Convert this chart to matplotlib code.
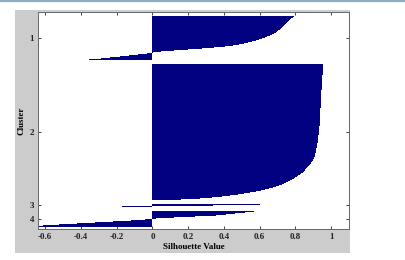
import numpy as np
import matplotlib
matplotlib.use("Agg")
import matplotlib.pyplot as plt
from matplotlib.patches import Rectangle

# silhouette values per cluster, sorted descending
cluster1 = [0.790, 0.785, 0.778, 0.772, 0.766, 0.760, 0.754, 0.748, 0.743, 0.737,
            0.731, 0.726, 0.720, 0.713, 0.705, 0.697, 0.689, 0.680, 0.668, 0.656,
            0.643, 0.630, 0.615, 0.597, 0.578, 0.558, 0.535, 0.510, 0.483, 0.452,
            0.405, 0.345, 0.275, 0.200, 0.120, 0.050, 0.005, -0.030, -0.080, -0.130,
            -0.180, -0.235, -0.290, -0.355]

cluster2 = [0.955, 0.955, 0.954, 0.954, 0.954, 0.953, 0.953, 0.953, 0.952, 0.952,
            0.952, 0.951, 0.951, 0.951, 0.950, 0.950, 0.950, 0.949, 0.949, 0.949,
            0.948, 0.948, 0.948, 0.947, 0.947, 0.947, 0.946, 0.946, 0.946, 0.945,
            0.945, 0.945, 0.944, 0.944, 0.944, 0.943, 0.943, 0.943, 0.942, 0.942,
            0.942, 0.941, 0.941, 0.941, 0.940, 0.940, 0.940, 0.939, 0.939, 0.939,
            0.938, 0.938, 0.938, 0.937, 0.937, 0.937, 0.936, 0.936, 0.936, 0.935,
            0.935, 0.935, 0.934, 0.934, 0.933, 0.933,
            0.932, 0.932, 0.931, 0.930, 0.930, 0.929, 0.928, 0.928, 0.927, 0.926,
            0.925, 0.924, 0.924, 0.923, 0.922, 0.921, 0.920, 0.919, 0.918, 0.917,
            0.916, 0.915, 0.913, 0.912, 0.910, 0.909, 0.907, 0.905, 0.903, 0.900,
            0.897, 0.894, 0.890, 0.886, 0.882, 0.877, 0.872, 0.867, 0.862, 0.856,
            0.853, 0.847, 0.840, 0.832, 0.824, 0.816, 0.808, 0.799, 0.790, 0.780,
            0.770, 0.760, 0.749, 0.738, 0.725, 0.710, 0.693, 0.675, 0.655, 0.632,
            0.608, 0.580, 0.548, 0.515, 0.478, 0.436, 0.390, 0.335, 0.265, 0.160]

cluster3 = [0.60, 0.34, -0.17]

cluster4 = [0.57, 0.52, 0.46, 0.41, 0.355, 0.24, 0.12, 0.02, -0.04, -0.12,
            -0.22, -0.32, -0.42, -0.52, -0.61, -0.66]

clusters = [cluster1, cluster2, cluster3, cluster4]
cluster_names = ['1', '2', '3', '4']
xticks = [-0.6, -0.4, -0.2, 0, 0.2, 0.4, 0.6, 0.8, 1]
xtick_labels = ['-0.6', '-0.4', '-0.2', '0', '0.2', '0.4', '0.6', '0.8', '1']

space = 4
navy = '#000080'
plt.rcParams['font.family'] = ['Liberation Serif', 'DejaVu Serif']

fig = plt.figure(figsize=(4.05, 2.6), dpi=100)
fig.patch.set_facecolor('white')
fig.patches.append(Rectangle((15 / 405, 1 - 253 / 260), 335 / 405, 243 / 260,
                             transform=fig.transFigure, facecolor='#cccccc',
                             edgecolor='none', zorder=-10))
fig.add_artist(plt.Line2D([0, 1], [0.997, 0.997], transform=fig.transFigure,
                          color='#86b0c0', linewidth=1.6))

ax = fig.add_axes([38 / 405, 1 - 229 / 260, 311 / 405, 217.3 / 260])
ax.set_zorder(1)
ax.set_facecolor('white')

# stack the clusters top to bottom with a gap between them, like matlab's silhouette()
pos = space
ticks = []
for vals in clusters:
    rows = np.arange(len(vals)) + pos + 0.5
    ax.barh(rows, vals, height=1.0, color=navy, edgecolor='none',
            linewidth=0, antialiased=False)
    ticks.append(pos + len(vals) / 2)
    pos += len(vals) + space

ax.set_xlim(-0.64, 1.1)
ax.set_ylim(217.3, 0)
ax.set_xticks(xticks)
ax.set_xticklabels(xtick_labels)
ax.set_yticks(ticks)
ax.set_yticklabels(cluster_names)
ax.tick_params(direction='in', length=2.5, width=0.6, top=True, right=True,
               labelsize=6.5, pad=3, colors='#222222')
for lab in ax.get_xticklabels() + ax.get_yticklabels():
    lab.set_fontweight('bold')
for sp in ax.spines.values():
    sp.set_color('#666666')
    sp.set_linewidth(0.7)

ax.set_xlabel('Silhouette Value', fontsize=6.5, fontweight='bold', labelpad=1)
ax.set_ylabel('Cluster', fontsize=6.5, fontweight='bold', labelpad=3)

fig.savefig('out.png', dpi=100)
